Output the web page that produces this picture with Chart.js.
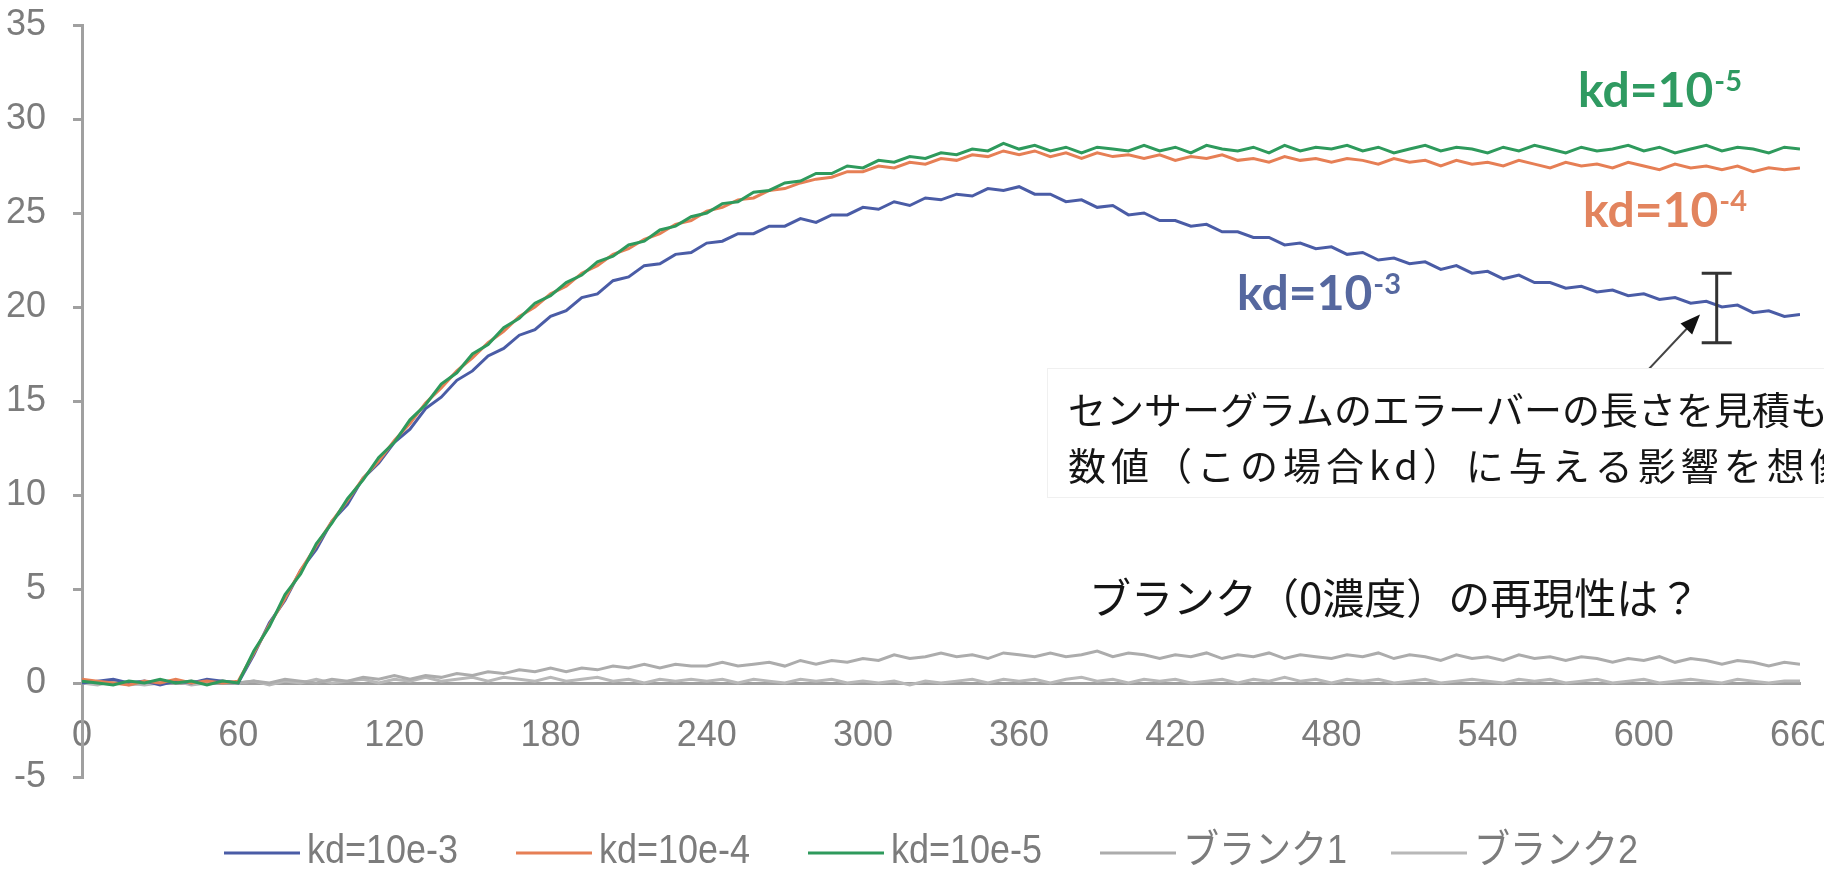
<!DOCTYPE html>
<html>
<head>
<meta charset="utf-8">
<script src="https://cdn.jsdelivr.net/npm/chart.js@4.4.1/dist/chart.umd.min.js"></script>
<style>
  html, body { margin: 0; padding: 0; background: #fff; }
  #wrap { width: 1824px; height: 871px; position: relative; }
</style>
</head>
<body>
<div id="wrap"><canvas id="chart"></canvas></div>
<script>
// time (s)
const times = [
  0, 6, 12, 18, 24, 30, 36, 42, 48, 54,
  60, 66, 72, 78, 84, 90, 96, 102, 108, 114,
  120, 126, 132, 138, 144, 150, 156, 162, 168, 174,
  180, 186, 192, 198, 204, 210, 216, 222, 228, 234,
  240, 246, 252, 258, 264, 270, 276, 282, 288, 294,
  300, 306, 312, 318, 324, 330, 336, 342, 348, 354,
  360, 366, 372, 378, 384, 390, 396, 402, 408, 414,
  420, 426, 432, 438, 444, 450, 456, 462, 468, 474,
  480, 486, 492, 498, 504, 510, 516, 522, 528, 534,
  540, 546, 552, 558, 564, 570, 576, 582, 588, 594,
  600, 606, 612, 618, 624, 630, 636, 642, 648, 654,
  660
];

const kd3 = [
  0.0, 0.1, 0.2, 0.0, 0.1, -0.1, 0.1, 0.0, 0.2, 0.1,
  0.0, 1.5, 3.2, 4.4, 6.0, 7.1, 8.6, 9.5, 10.9, 11.7,
  12.8, 13.5, 14.6, 15.2, 16.1, 16.6, 17.4, 17.8, 18.5, 18.8,
  19.5, 19.8, 20.5, 20.7, 21.4, 21.6, 22.2, 22.3, 22.8, 22.9,
  23.4, 23.5, 23.9, 23.9, 24.3, 24.3, 24.7, 24.5, 24.9, 24.9,
  25.3, 25.2, 25.6, 25.4, 25.8, 25.7, 26.0, 25.9, 26.3, 26.2,
  26.4, 26.0, 26.0, 25.6, 25.7, 25.3, 25.4, 24.9, 25.0, 24.6,
  24.6, 24.3, 24.4, 24.0, 24.0, 23.7, 23.7, 23.3, 23.4, 23.1,
  23.2, 22.8, 22.9, 22.5, 22.6, 22.3, 22.4, 22.0, 22.2, 21.8,
  21.9, 21.5, 21.7, 21.3, 21.3, 21.0, 21.1, 20.8, 20.9, 20.6,
  20.7, 20.4, 20.5, 20.2, 20.3, 20.0, 20.1, 19.7, 19.8, 19.5,
  19.6
];

const kd4 = [
  0.2, 0.1, 0.0, -0.1, 0.1, 0.0, 0.2, 0.0, 0.1, 0.0,
  0.1, 1.6, 3.1, 4.5, 6.0, 7.3, 8.6, 9.7, 10.9, 11.8,
  12.9, 13.8, 14.9, 15.7, 16.6, 17.3, 18.1, 18.7, 19.5, 20.0,
  20.7, 21.1, 21.8, 22.2, 22.8, 23.1, 23.6, 23.9, 24.4, 24.6,
  25.1, 25.3, 25.7, 25.8, 26.2, 26.3, 26.6, 26.8, 26.9, 27.2,
  27.2, 27.5, 27.4, 27.7, 27.6, 27.9, 27.8, 28.1, 28.0, 28.3,
  28.1, 28.3, 28.0, 28.2, 27.9, 28.2, 28.0, 28.1, 27.9, 28.1,
  27.8, 28.0, 27.9, 28.1, 27.8, 27.9, 27.7, 28.0, 27.8, 27.9,
  27.7, 27.9, 27.8, 27.6, 27.9, 27.7, 27.8, 27.5, 27.8, 27.6,
  27.7, 27.5, 27.8, 27.6, 27.4, 27.7, 27.5, 27.6, 27.4, 27.7,
  27.5, 27.3, 27.6, 27.4, 27.5, 27.3, 27.5, 27.2, 27.4, 27.3,
  27.4
];

const kd5 = [
  0.1, 0.0, -0.1, 0.1, 0.0, 0.2, 0.0, 0.1, -0.1, 0.1,
  0.0, 1.7, 3.0, 4.7, 5.8, 7.4, 8.5, 9.8, 10.8, 12.0,
  12.8, 14.0, 14.8, 15.9, 16.5, 17.5, 18.0, 18.9, 19.4, 20.2,
  20.6, 21.3, 21.7, 22.4, 22.7, 23.3, 23.5, 24.1, 24.3, 24.8,
  25.0, 25.5, 25.6, 26.1, 26.2, 26.6, 26.7, 27.1, 27.1, 27.5,
  27.4, 27.8, 27.7, 28.0, 27.9, 28.2, 28.1, 28.4, 28.3, 28.7,
  28.4, 28.6, 28.3, 28.5, 28.2, 28.5, 28.4, 28.3, 28.6, 28.3,
  28.5, 28.2, 28.6, 28.4, 28.3, 28.5, 28.2, 28.6, 28.3, 28.5,
  28.4, 28.6, 28.3, 28.5, 28.2, 28.4, 28.6, 28.3, 28.5, 28.4,
  28.2, 28.5, 28.3, 28.6, 28.4, 28.2, 28.5, 28.3, 28.4, 28.6,
  28.3, 28.5, 28.2, 28.4, 28.6, 28.3, 28.5, 28.4, 28.2, 28.5,
  28.4
];

const blank1 = [
  0.1, 0.0, 0.1, -0.1, 0.0, 0.1, 0.0, 0.1, 0.0, 0.1,
  0.0, 0.1, 0.0, 0.2, 0.1, 0.0, 0.2, 0.1, 0.3, 0.2,
  0.4, 0.2, 0.4, 0.3, 0.5, 0.4, 0.6, 0.5, 0.7, 0.6,
  0.8, 0.6, 0.8, 0.7, 0.9, 0.8, 1.0, 0.8, 1.0, 0.9,
  0.9, 1.1, 0.9, 1.0, 1.1, 0.9, 1.2, 1.0, 1.2, 1.1,
  1.3, 1.2, 1.5, 1.3, 1.4, 1.6, 1.4, 1.5, 1.3, 1.6,
  1.5, 1.4, 1.6, 1.4, 1.5, 1.7, 1.4, 1.6, 1.5, 1.3,
  1.5, 1.4, 1.6, 1.3, 1.5, 1.4, 1.6, 1.3, 1.5, 1.4,
  1.3, 1.5, 1.4, 1.6, 1.3, 1.5, 1.4, 1.2, 1.5, 1.3,
  1.4, 1.2, 1.5, 1.3, 1.4, 1.2, 1.4, 1.3, 1.1, 1.3,
  1.2, 1.4, 1.1, 1.3, 1.2, 1.0, 1.2, 1.1, 0.9, 1.1,
  1.0
];

const blank2 = [
  0.0, -0.1, 0.1, 0.0, -0.1, 0.0, 0.1, -0.1, 0.0, 0.1,
  0.0, 0.1, -0.1, 0.1, 0.0, 0.2, 0.0, 0.1, 0.2, 0.0,
  0.2, 0.1, 0.3, 0.1, 0.2, 0.3, 0.1, 0.3, 0.2, 0.1,
  0.3, 0.1, 0.2, 0.3, 0.1, 0.2, 0.0, 0.2, 0.1, 0.2,
  0.1, 0.2, 0.0, 0.2, 0.1, 0.0, 0.2, 0.1, 0.2, 0.0,
  0.1, 0.0, 0.1, -0.1, 0.1, 0.0, 0.1, 0.2, 0.0, 0.2,
  0.1, 0.2, 0.0, 0.2, 0.3, 0.1, 0.2, 0.0, 0.2, 0.1,
  0.2, 0.0, 0.1, 0.2, 0.0, 0.2, 0.1, 0.3, 0.1, 0.2,
  0.0, 0.2, 0.1, 0.2, 0.0, 0.1, 0.2, 0.0, 0.1, 0.2,
  0.1, 0.0, 0.2, 0.1, 0.2, 0.0, 0.1, 0.2, 0.0, 0.1,
  0.2, 0.0, 0.1, 0.2, 0.1, 0.0, 0.2, 0.1, 0.0, 0.1,
  0.1
];

const seriesNames = ['kd=10e-3', 'kd=10e-4', 'kd=10e-5', 'ブランク1', 'ブランク2'];
const seriesValues = [kd3, kd4, kd5, blank1, blank2];
const seriesColors = ['#4a5ca6', '#e67f55', '#2e9a5c', '#acacac', '#b8b8b8'];
const drawOrder = [3, 2, 1, 4, 5];

// curve labels (base text + superscript exponent)
const kdBase = ['kd=10', 'kd=10', 'kd=10'];
const kdExp = ['-3', '-4', '-5'];
const kdColors = ['#56689f', '#e2845e', '#2f9a61'];

const errT = 628;
const errLow = 18.1;
const errHigh = 21.8;

const noteLines = ['センサーグラムのエラーバーの長さを見積もり', '数値（この場合kd）に与える影響を想像する'];
const blankNote = 'ブランク（0濃度）の再現性は？';

const axisColor = '#a0a0a0';
const tickColor = '#7c7c7c';
const tickFont = { family: "'Liberation Sans', sans-serif", size: 36 };

const overlay = {
  id: 'overlay',
  afterDraw(chart) {
    const { ctx, scales: { x, y } } = chart;
    ctx.save();

    // error bar
    const ex = x.getPixelForValue(errT);
    const eTop = y.getPixelForValue(errHigh);
    const eBot = y.getPixelForValue(errLow);
    ctx.strokeStyle = '#333';
    ctx.lineWidth = 3;
    ctx.beginPath();
    ctx.moveTo(ex, eTop); ctx.lineTo(ex, eBot);
    ctx.moveTo(ex - 15, eTop); ctx.lineTo(ex + 15, eTop);
    ctx.moveTo(ex - 15, eBot); ctx.lineTo(ex + 15, eBot);
    ctx.stroke();

    // arrow pointing at the error bar
    const ax0 = x.getPixelForValue(587), ay0 = y.getPixelForValue(14.5);
    const ax1 = x.getPixelForValue(621.6), ay1 = y.getPixelForValue(19.6);
    const ang = Math.atan2(ay1 - ay0, ax1 - ax0);
    ctx.strokeStyle = '#444';
    ctx.lineWidth = 2;
    ctx.beginPath();
    ctx.moveTo(ax0, ay0);
    ctx.lineTo(ax1 - 14 * Math.cos(ang), ay1 - 14 * Math.sin(ang));
    ctx.stroke();
    ctx.fillStyle = '#111';
    ctx.beginPath();
    ctx.moveTo(ax1, ay1);
    ctx.lineTo(ax1 - 20 * Math.cos(ang) + 8 * Math.sin(ang), ay1 - 20 * Math.sin(ang) - 8 * Math.cos(ang));
    ctx.lineTo(ax1 - 20 * Math.cos(ang) - 8 * Math.sin(ang), ay1 - 20 * Math.sin(ang) + 8 * Math.cos(ang));
    ctx.closePath();
    ctx.fill();

    // note box
    ctx.fillStyle = '#fff';
    ctx.fillRect(1047, 368, 777, 130);
    ctx.strokeStyle = 'rgba(0,0,0,0.06)';
    ctx.lineWidth = 1;
    ctx.strokeRect(1047.5, 368.5, 800, 129);

    ctx.fillStyle = '#151515';
    ctx.textAlign = 'left';
    ctx.textBaseline = 'middle';
    ctx.font = '38px "Noto Sans CJK JP"';
    ctx.fillText(noteLines[0], 1068, 410);
    if ('letterSpacing' in ctx) ctx.letterSpacing = '5px';
    ctx.fillText(noteLines[1], 1068, 466);
    if ('letterSpacing' in ctx) ctx.letterSpacing = '0px';
    ctx.font = '42px "Noto Sans CJK JP"';
    ctx.fillText(blankNote, 1089, 598);

    // curve labels
    const kdPos = [[1237, 310], [1583, 227], [1578, 107]];
    ctx.textBaseline = 'alphabetic';
    kdBase.forEach((txt, i) => {
      const [lx, ly] = kdPos[i];
      ctx.fillStyle = kdColors[i];
      ctx.font = 'bold 48px Lato';
      ctx.fillText(txt, lx, ly);
      const w = ctx.measureText(txt).width;
      ctx.font = 'bold 29px Lato';
      ctx.fillText(kdExp[i], lx + w + 1, ly - 16);
    });

    // legend
    const legendX = [224, 516, 808, 1100, 1391];
    seriesNames.forEach((name, i) => {
      const lx = legendX[i];
      ctx.strokeStyle = seriesColors[i];
      ctx.lineWidth = 3;
      ctx.beginPath();
      ctx.moveTo(lx, 853);
      ctx.lineTo(lx + 76, 853);
      ctx.stroke();
      ctx.save();
      ctx.translate(lx + 83, 863);
      ctx.scale(0.9, 1);
      ctx.fillStyle = tickColor;
      ctx.font = '40px "Liberation Sans", "Noto Sans CJK JP"';
      ctx.fillText(name, 0, 0);
      ctx.restore();
    });

    ctx.restore();
  }
};

new Chart(document.getElementById('chart'), {
  type: 'line',
  data: {
    datasets: seriesNames.map((name, i) => ({
      label: name,
      data: times.map((t, j) => ({ x: t, y: seriesValues[i][j] })),
      borderColor: seriesColors[i],
      backgroundColor: seriesColors[i],
      borderWidth: 3,
      pointRadius: 0,
      tension: 0,
      fill: false,
      order: drawOrder[i]
    }))
  },
  options: {
    responsive: true,
    maintainAspectRatio: false,
    animation: false,
    layout: { padding: { left: 0, right: 24, top: 25, bottom: 94 } },
    plugins: {
      legend: { display: false },
      tooltip: { enabled: false }
    },
    scales: {
      x: {
        type: 'linear',
        min: 0,
        max: 660,
        position: { y: 0 },
        ticks: { stepSize: 60, autoSkip: false, maxRotation: 0, padding: 23, color: tickColor, font: tickFont },
        grid: { display: false },
        border: { display: true, color: axisColor, width: 3 },
        afterFit: (s) => { s.height = 0; s.paddingLeft = 0; s.paddingRight = 0; }
      },
      y: {
        min: -5,
        max: 35,
        ticks: { stepSize: 5, padding: 27, color: tickColor, font: tickFont },
        grid: { display: true, drawOnChartArea: false, drawTicks: true, tickLength: 9, color: axisColor, lineWidth: 3 },
        border: { display: true, color: axisColor, width: 3 },
        afterFit: (s) => { s.width = 82; s.paddingTop = 0; s.paddingBottom = 0; }
      }
    }
  },
  plugins: [overlay]
});
</script>
</body>
</html>
